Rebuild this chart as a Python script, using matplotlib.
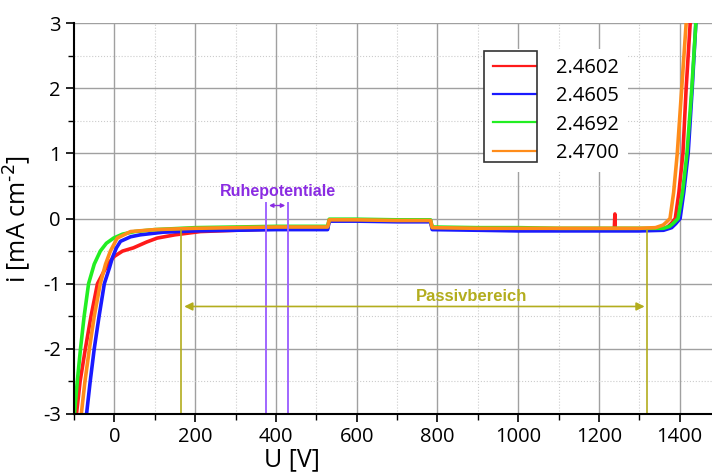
import numpy as np
import matplotlib.pyplot as plt
from matplotlib.ticker import MultipleLocator
from matplotlib.patches import Rectangle

plt.rcParams['axes.unicode_minus'] = False
plt.rcParams['font.family'] = ['Open Sans', 'DejaVu Sans']

# Stromdichte-Potential-Kurven
labels = ['2.4602', '2.4605', '2.4692', '2.4700']
colors = ['#ff1a1a', '#1a1aff', '#22ee22', '#ff8c1a']

u_red = [-94, -85, -72, -58, -42, -25, -10, 0, 20, 47, 80, 106, 150, 213, 300, 400, 528,
         532, 600, 700, 783, 787, 900, 1000, 1100, 1200, 1238, 1239.5, 1240, 1240.5, 1300,
         1350, 1370, 1380, 1389, 1398, 1408, 1416, 1426]
i_red = [-3, -2.5, -2, -1.5, -1, -0.8, -0.65, -0.58, -0.5, -0.45, -0.36, -0.3, -0.25, -0.2,
         -0.18, -0.16, -0.15, -0.03, -0.02, -0.03, -0.04, -0.15, -0.16, -0.17, -0.17, -0.17,
         -0.17, 0.07, -0.17, -0.17, -0.17, -0.17, -0.13, -0.07, 0.0, 0.4, 1.0, 2.0, 3.0]

u_blue = [-69, -60, -50, -38, -25, -12, -5, 5, 15, 40, 64, 120, 200, 300, 400, 528, 532,
          600, 700, 783, 787, 900, 1000, 1100, 1200, 1300, 1360, 1380, 1390, 1401, 1410,
          1421, 1431, 1440]
i_blue = [-3, -2.5, -2, -1.5, -1, -0.75, -0.6, -0.45, -0.35, -0.28, -0.25, -0.21, -0.19,
          -0.18, -0.17, -0.17, -0.04, -0.04, -0.05, -0.05, -0.17, -0.18, -0.19, -0.19, -0.19,
          -0.19, -0.18, -0.14, -0.08, 0.0, 0.4, 1.0, 2.0, 3.0]

u_green = [-99, -92, -84, -75, -64, -50, -35, -20, -2, 20, 50, 100, 200, 300, 400, 528, 532,
           600, 700, 783, 787, 900, 1000, 1100, 1200, 1300, 1360, 1375, 1383, 1396, 1407,
           1418, 1430, 1440]
i_green = [-3, -2.5, -2, -1.5, -1, -0.7, -0.5, -0.38, -0.3, -0.24, -0.2, -0.17, -0.14, -0.13,
           -0.12, -0.12, -0.01, -0.01, -0.02, -0.02, -0.13, -0.14, -0.14, -0.15, -0.15, -0.15,
           -0.15, -0.12, -0.08, 0.0, 0.4, 1.0, 2.0, 3.0]

u_orange = [-82, -73, -62, -50, -35, -22, -10, 7, 40, 100, 200, 300, 400, 528, 532, 600, 700,
            783, 787, 900, 1000, 1100, 1200, 1300, 1340, 1359, 1368, 1376, 1385, 1394, 1405,
            1416]
i_orange = [-3, -2.5, -2, -1.5, -1, -0.7, -0.5, -0.3, -0.2, -0.17, -0.15, -0.14, -0.13, -0.13,
            -0.02, -0.02, -0.03, -0.03, -0.14, -0.15, -0.15, -0.15, -0.15, -0.15, -0.14, -0.1,
            -0.05, 0.0, 0.4, 1.0, 2.0, 3.0]

curves = [(u_red, i_red), (u_blue, i_blue), (u_green, i_green), (u_orange, i_orange)]

# Markierungen
passiv_left, passiv_right, passiv_y = 166, 1320, -1.35
ruhe_left, ruhe_right, ruhe_y = 376, 430, 0.2

fig = plt.figure(figsize=(7.12, 4.72), dpi=100)
ax = fig.add_axes([0.104, 0.123, 0.896, 0.828])

for (u, i), c, lab in zip(curves, colors, labels):
    ax.plot(u, i, color=c, lw=2.6, label=lab, solid_joinstyle='round')

olive = '#b3ad1e'
for xv in (passiv_left, passiv_right):
    ax.plot([xv, xv], [-3, -0.17], color=olive, lw=1.2)
ax.annotate('', xy=(passiv_left, passiv_y), xytext=(passiv_right, passiv_y),
            arrowprops=dict(arrowstyle='<|-|>', color=olive, lw=1.2, mutation_scale=12))
ax.text(884, -1.2, 'Passivbereich', color=olive, fontsize=12, fontweight='bold',
        ha='center', va='center', family=['Liberation Sans', 'DejaVu Sans'])

purple = '#a066ff'
for xv in (ruhe_left, ruhe_right):
    ax.plot([xv, xv], [-3, 0.24], color=purple, lw=1.4)
ax.annotate('', xy=(ruhe_left, ruhe_y), xytext=(ruhe_right, ruhe_y),
            arrowprops=dict(arrowstyle='<|-|>', color='#8a2be2', lw=1.0, mutation_scale=6))
ax.text(405, 0.42, 'Ruhepotentiale', color='#8a2be2', fontsize=11.5, fontweight='bold',
        ha='center', va='center', family=['Liberation Sans', 'DejaVu Sans'])

ax.set_xlim(-100, 1480)
ax.set_ylim(-3, 3)
ax.xaxis.set_major_locator(MultipleLocator(200))
ax.xaxis.set_minor_locator(MultipleLocator(100))
ax.yaxis.set_major_locator(MultipleLocator(1))
ax.yaxis.set_minor_locator(MultipleLocator(0.5))
ax.grid(which='major', color='#a0a0a0', lw=1.0)
ax.grid(which='minor', color='#cccccc', lw=0.8, ls=':')
ax.set_axisbelow(True)

ax.spines['top'].set_visible(False)
ax.spines['right'].set_visible(False)
ax.spines['left'].set_linewidth(1.5)
ax.spines['bottom'].set_linewidth(1.5)
ax.tick_params(which='major', direction='out', length=6, width=1.2, labelsize=14.5)
ax.tick_params(which='minor', direction='out', length=4, width=1.0)

ax.set_xlabel('U [V]', fontsize=18)
ax.xaxis.set_label_coords(0.342, -0.085)
ax.set_ylabel('i [mA cm$^{\\text{-2}}$]', fontsize=18)
ax.yaxis.set_label_coords(-0.064, 0.5)

leg = ax.legend(loc='upper left', bbox_to_anchor=(0.643, 0.935), borderaxespad=0,
                fontsize=14.5, frameon=True, fancybox=False, edgecolor='none',
                facecolor='white', framealpha=1, handlelength=2.1, handletextpad=1.0,
                borderpad=0.45, labelspacing=0.42)
for line in leg.get_lines():
    line.set_linewidth(1.6)
# Rahmen nur um die Linien-Symbole wie im Original
ax.add_patch(Rectangle((0.643, 0.645), 0.083, 0.284, transform=ax.transAxes,
                       fill=False, edgecolor='#333333', lw=1.2, zorder=6))

fig.savefig('out.png', dpi=100)
